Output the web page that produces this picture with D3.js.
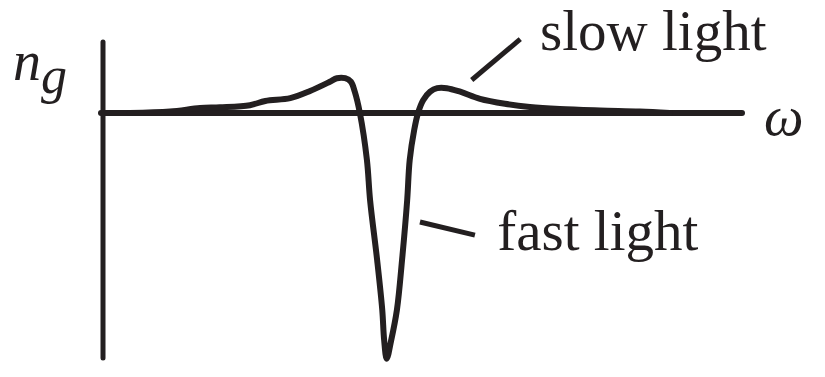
<!DOCTYPE html>
<html>
<head>
<meta charset="utf-8">
<script src="https://cdn.jsdelivr.net/npm/d3@7/dist/d3.min.js"></script>
<style>
  html, body { margin: 0; padding: 0; background: #fff; }
  svg { display: block; }
  text { font-family: "Liberation Serif", "DejaVu Serif", serif; fill: #231f20; }
</style>
</head>
<body>
<script>
// Group index n_g versus frequency ω around a resonance (arbitrary units)
const omega = [0.42, 1.05, 1.52, 1.83, 2.30, 2.54, 2.93, 3.24, 3.55, 3.66, 3.79, 3.88, 3.94,
               4.02, 4.13, 4.18, 4.29, 4.37, 4.40, 4.44, 4.51, 4.60, 4.68, 4.76, 4.80, 4.87,
               4.93, 5.01, 5.12, 5.23, 5.38, 5.59, 5.90, 6.29, 6.68, 7.15, 7.78, 8.40, 8.87];
const ng    = [0.00, 0.02, 0.07, 0.08, 0.11, 0.17, 0.21, 0.31, 0.44, 0.49, 0.49, 0.44, 0.30,
               0.00, -0.66, -1.23, -2.07, -2.77, -3.20, -3.46, -3.20, -2.77, -2.07, -1.23, -0.66, -0.24,
               0.00, 0.18, 0.30, 0.35, 0.35, 0.30, 0.20, 0.13, 0.085, 0.056, 0.035, 0.02, 0.00];

// Axis extents
const omegaAxis = [0, 10];
const ngAxis = [-3.45, 1];

// Annotations: label text, label anchor, and leader line end points
const labelText   = ["slow light", "fast light"];
const labelOmega  = [6.84, 6.17];
const labelNg     = [0.887, -1.93];
const leaderFrom  = [[5.77, 0.465], [4.96, -1.535]];
const leaderTo    = [[6.53, 1.04],  [5.82, -1.72]];

const W = 825, H = 377;
const ink = "#231f20";

const svg = d3.select("body").append("svg")
  .attr("width", W).attr("height", H);

const x = d3.scaleLinear().domain(omegaAxis).range([103, 742]);
const y = d3.scaleLinear().domain([ngAxis[1], ngAxis[0]]).range([42, 358]);

// Axes
svg.append("line")
  .attr("x1", x(omegaAxis[0])).attr("x2", x(omegaAxis[0]))
  .attr("y1", y(ngAxis[1])).attr("y2", y(ngAxis[0]))
  .attr("stroke", ink).attr("stroke-width", 5).attr("stroke-linecap", "round");
svg.append("line")
  .attr("x1", x(omegaAxis[0]) - 2).attr("x2", x(omegaAxis[1]))
  .attr("y1", y(0)).attr("y2", y(0))
  .attr("stroke", ink).attr("stroke-width", 6).attr("stroke-linecap", "round");

// Curve
const line = d3.line()
  .x((d, i) => x(omega[i]))
  .y((d, i) => y(ng[i]))
  .curve(d3.curveCatmullRom.alpha(0.5));
svg.append("path")
  .datum(omega)
  .attr("d", line)
  .attr("fill", "none")
  .attr("stroke", ink)
  .attr("stroke-width", 6)
  .attr("stroke-linejoin", "round")
  .attr("stroke-linecap", "round");

// Axis labels
const ngLabel = svg.append("text")
  .attr("x", x(omegaAxis[0]) - 90).attr("y", y(ngAxis[1]) + 38)
  .attr("font-size", 56).attr("font-style", "italic");
ngLabel.append("tspan").text("n");
ngLabel.append("tspan").attr("dy", 13).attr("font-size", 52).text("g");

svg.append("text")
  .attr("x", x(omegaAxis[1]) + 22).attr("y", y(0) + 22)
  .attr("font-size", 56).attr("font-style", "italic")
  .text("ω");

// Annotations
labelText.forEach((t, i) => {
  svg.append("line")
    .attr("x1", x(leaderFrom[i][0])).attr("y1", y(leaderFrom[i][1]))
    .attr("x2", x(leaderTo[i][0])).attr("y2", y(leaderTo[i][1]))
    .attr("stroke", ink).attr("stroke-width", 5);
  svg.append("text")
    .attr("x", x(labelOmega[i])).attr("y", y(labelNg[i]))
    .attr("font-size", 57)
    .text(t);
});
</script>
</body>
</html>
